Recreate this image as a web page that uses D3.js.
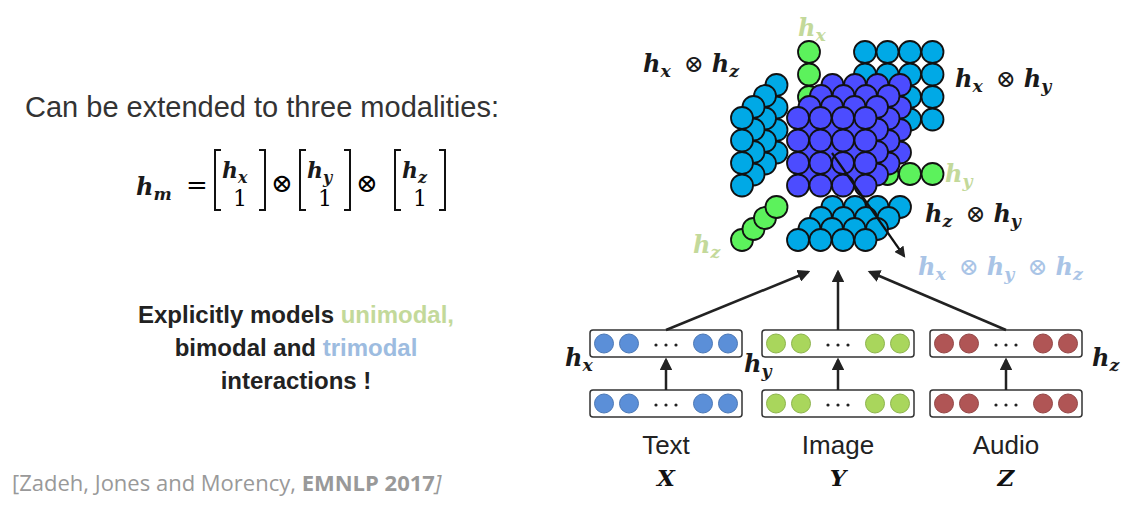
<!DOCTYPE html>
<html><head><meta charset="utf-8">
<script src="https://cdn.jsdelivr.net/npm/d3@7"></script>
<style>body{margin:0;background:#fff}</style>
</head><body><div id="chart"></div>
<script>
const width = 1134, height = 514;

// diagram content
const modalities = ["Text", "Image", "Audio"];
const modalVars = ["X", "Y", "Z"];
const hiddenNames = ["x", "y", "z"];
const beadColors = ["#5b8fd8", "#a9d65c", "#b05555"];
const explainLines = [
  [["Explicitly models ", "#222"], ["unimodal,", "#c3d99a"]],
  [["bimodal and ", "#222"], ["trimodal", "#9dbce0"]],
  [["interactions !", "#222"]]
];
const gridSize = 4;       // 4 x 4 x 4 tensor
const step = 22.5;        // bead spacing
const depth = [11.5, -11];  // offset per depth layer

const svg = d3.select("#chart").append("svg")
  .attr("width", width).attr("height", height)
  .style("font-family", "Liberation Sans, Arial, sans-serif");

svg.append("defs").append("marker")
  .attr("id", "ah").attr("viewBox", "0 0 10 10").attr("refX", 8).attr("refY", 5)
  .attr("markerWidth", 5).attr("markerHeight", 5).attr("orient", "auto")
  .append("path").attr("d", "M0,0L10,5L0,10z").attr("fill", "#222");

const cyan = "#00a9e6", green = "#5cf25c", purple = "#4c4cff";
function bead(x, y, fill) {
  svg.append("circle").attr("cx", x).attr("cy", y).attr("r", 11)
    .attr("fill", fill).attr("stroke", "#111").attr("stroke-width", 1.8);
}
const idx = d3.range(gridSize);

// hx ⊗ hy (back plane)
idx.forEach(r => idx.forEach(c => bead(865 + c * step, 52 + r * step, cyan)));
// hx unimodal column
idx.forEach(r => bead(809, 52 + r * step, green));
// hy unimodal row
idx.forEach(c => bead(865 + c * step, 174, green));
// hx ⊗ hz (left, sheared)
idx.slice().reverse().forEach(l => idx.forEach(r =>
  bead(742 + l * depth[0], 118 + r * step + l * depth[1], cyan)));
// hz ⊗ hy (bottom, sheared)
idx.slice().reverse().forEach(l => idx.forEach(c =>
  bead(798 + c * step + l * depth[0], 240 + l * depth[1], cyan)));
// hz unimodal diagonal
idx.forEach(l => bead(742 + l * depth[0], 240 + l * depth[1], green));
// trimodal cube
idx.slice().reverse().forEach(l => idx.forEach(r => idx.forEach(c =>
  bead(798 + c * step + l * depth[0], 118 + r * step + l * depth[1], purple))));

svg.append("line").attr("x1", 832).attr("y1", 153).attr("x2", 904).attr("y2", 256)
  .attr("stroke", "#111").attr("stroke-width", 2.2).attr("marker-end", "url(#ah)");

// math labels
function hLabel(x, y, parts, color, size) {
  const t = svg.append("text").attr("x", x).attr("y", y)
    .attr("font-family", "DejaVu Serif, serif").attr("font-weight", "bold")
    .attr("font-style", "italic").attr("font-size", size || 24).attr("fill", color);
  parts.forEach((p, i) => {
    if (p === "⊗") t.append("tspan").attr("font-style", "normal").attr("font-weight", "normal")
      .attr("dx", 5).text("⊗ ");
    else {
      t.append("tspan").text("h");
      t.append("tspan").attr("font-size", (size || 24) * 0.72).attr("dy", 5).text(p);
      t.append("tspan").attr("dy", -5).text(" ");
    }
  });
}
hLabel(643, 72, ["x", "⊗", "z"], "#1a1a1a");
hLabel(798, 36, ["x"], "#c3d99a");
hLabel(955, 87, ["x", "⊗", "y"], "#1a1a1a");
hLabel(945, 182, ["y"], "#c3d99a");
hLabel(925, 222, ["z", "⊗", "y"], "#1a1a1a");
hLabel(693, 253, ["z"], "#c3d99a");
hLabel(918, 275, ["x", "⊗", "y", "⊗", "z"], "#a9c4e6");

// encoder boxes
const boxX = [590, 762, 930], boxW = 152;
modalities.forEach((m, i) => {
  const cx = boxX[i] + boxW / 2;
  [330, 390].forEach(y => {
    svg.append("rect").attr("x", boxX[i]).attr("y", y).attr("width", boxW).attr("height", 27)
      .attr("rx", 3).attr("fill", "#fff").attr("stroke", "#333").attr("stroke-width", 1.5);
    [14, 39, boxW - 39, boxW - 14].forEach(dx =>
      svg.append("circle").attr("cx", boxX[i] + dx).attr("cy", y + 13.5).attr("r", 9.5)
        .attr("fill", beadColors[i]).attr("stroke", d3.color(beadColors[i]).darker(0.5)));
    [-10, 0, 10].forEach(dx =>
      svg.append("circle").attr("cx", cx + dx).attr("cy", y + 15).attr("r", 1.6).attr("fill", "#222"));
  });
  svg.append("line").attr("x1", cx).attr("y1", 390).attr("x2", cx).attr("y2", 360)
    .attr("stroke", "#222").attr("stroke-width", 2.5).attr("marker-end", "url(#ah)");
  const tx = [808, 838, 870][i];
  svg.append("line").attr("x1", cx).attr("y1", 330).attr("x2", tx).attr("y2", 272)
    .attr("stroke", "#222").attr("stroke-width", 2.5).attr("marker-end", "url(#ah)");
  svg.append("text").attr("x", cx).attr("y", 454).attr("text-anchor", "middle")
    .attr("font-size", 26).attr("fill", "#222").text(m);
  svg.append("text").attr("x", cx).attr("y", 486).attr("text-anchor", "middle")
    .attr("font-family", "DejaVu Serif, serif").attr("font-weight", "bold").attr("font-style", "italic")
    .attr("font-size", 23).attr("fill", "#111").text(modalVars[i]);
});
hLabel(565, 366, ["x"], "#1a1a1a");
hLabel(744, 372, ["y"], "#1a1a1a");
hLabel(1092, 366, ["z"], "#1a1a1a");

// left text
svg.append("text").attr("x", 25).attr("y", 117).attr("font-size", 29).attr("fill", "#333")
  .text("Can be extended to three modalities:");

// formula h_m = [hx;1] ⊗ [hy;1] ⊗ [hz;1]
hLabel(136, 195, ["m"], "#1a1a1a");
svg.append("text").attr("x", 186).attr("y", 194).attr("font-size", 26)
  .attr("font-family", "DejaVu Serif, serif").text("=");
[215, 300, 395].forEach((x, i) => {
  const w = 50;
  svg.append("path").attr("d", `M${x + 6},150H${x}V210H${x + 6}`)
    .attr("fill", "none").attr("stroke", "#111").attr("stroke-width", 2);
  svg.append("path").attr("d", `M${x + w - 6},150H${x + w}V210H${x + w - 6}`)
    .attr("fill", "none").attr("stroke", "#111").attr("stroke-width", 2);
  hLabel(x + 7, 178, [hiddenNames[i]], "#1a1a1a", 22);
  svg.append("text").attr("x", x + 25).attr("y", 206).attr("text-anchor", "middle")
    .attr("font-family", "DejaVu Serif, serif").attr("font-size", 22).text("1");
  if (i < 2) svg.append("text").attr("x", x + w + 17).attr("y", 192).attr("text-anchor", "middle")
    .attr("font-family", "DejaVu Serif, serif").attr("font-size", 26).text("⊗");
});

explainLines.forEach((line, i) => {
  const t = svg.append("text").attr("x", 296).attr("y", 323 + i * 33).attr("text-anchor", "middle")
    .attr("font-size", 24).attr("font-weight", "bold");
  line.forEach(([s, c]) => t.append("tspan").attr("fill", c).text(s));
});

const cite = svg.append("text").attr("x", 12).attr("y", 491).attr("font-size", 22)
  .attr("font-family", "Open Sans, sans-serif").attr("fill", "#999");
cite.append("tspan").text("[Zadeh, Jones and Morency, ");
cite.append("tspan").attr("font-weight", "bold").text("EMNLP 2017");
cite.append("tspan").attr("font-style", "italic").text("]");
</script></body></html>
